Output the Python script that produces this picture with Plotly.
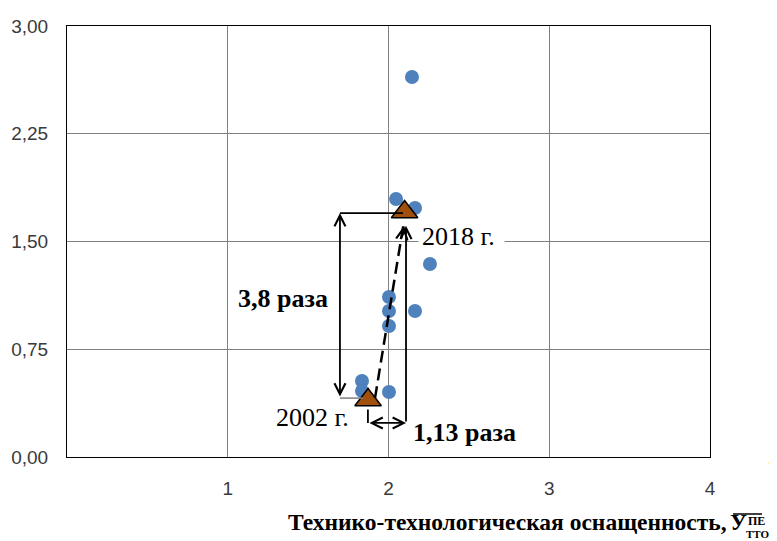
import plotly.graph_objects as go

# Data
pts_x = [2.146, 2.047, 2.165, 2.258, 2.003, 2.003, 2.165, 2.003, 1.835, 1.835, 2.003]
pts_y = [2.645, 1.796, 1.733, 1.343, 1.114, 1.016, 1.016, 0.912, 0.529, 0.459, 0.452]
tri_x = [1.873, 2.100]
tri_y = [0.397, 1.705]
tri_labels = ["2002 г.", "2018 г."]
x_ticks = [1, 2, 3, 4]
y_ticks = [0, 0.75, 1.5, 2.25, 3.0]
ratio_y_label = "3,8 раза"
ratio_x_label = "1,13 раза"

SERIF = "Liberation Serif"
SANS = "Liberation Sans"

fig = go.Figure()
fig.add_trace(go.Scatter(x=pts_x, y=pts_y, mode="markers",
                         marker=dict(color="#4F81BD", size=14), showlegend=False))

# dashed trend line between the two triangles
fig.add_shape(type="line", x0=1.916, y0=0.41, x1=2.095, y1=1.63, xref="x", yref="y",
              line=dict(color="black", width=2.5, dash="12px,6px"))

# bracket lines
fig.add_shape(type="line", x0=1.698, y0=1.698, x1=2.09, y1=1.698, line=dict(color="black", width=1.8))
fig.add_shape(type="line", x0=1.698, y0=0.41, x1=1.84, y1=0.41, line=dict(color="#808080", width=1.5))
fig.add_shape(type="line", x0=1.872, y0=0.33, x1=1.872, y1=0.237, line=dict(color="black", width=1.8))

fig.add_trace(go.Scatter(x=tri_x, y=tri_y, mode="markers",
                         marker=dict(symbol="triangle-up", color="#A0500A", size=23,
                                     line=dict(color="black", width=1.5)),
                         showlegend=False))

ann = []
# left double arrow (3,8 раза)
ann.append(dict(x=1.698, y=1.698, ax=1.698, ay=0.41, xref="x", yref="y", axref="x", ayref="y",
                showarrow=True, arrowhead=5, startarrowhead=5, arrowside="end+start",
                arrowwidth=1.8, arrowsize=1.2, startarrowsize=1.2, arrowcolor="black", text=""))
# right vertical arrow
ann.append(dict(x=2.109, y=1.61, ax=2.109, ay=0.237, xref="x", yref="y", axref="x", ayref="y",
                showarrow=True, arrowhead=5, arrowwidth=1.8, arrowsize=1.2, arrowcolor="black", text=""))
# bottom double arrow (1,13 раза)
ann.append(dict(x=2.109, y=0.237, ax=1.872, ay=0.237, xref="x", yref="y", axref="x", ayref="y",
                showarrow=True, arrowhead=5, startarrowhead=5, arrowside="end+start",
                arrowwidth=1.8, arrowsize=1.2, startarrowsize=1.2, arrowcolor="black", text=""))
# dashed line arrowhead
ann.append(dict(x=2.097, y=1.61, ax=2.088, ay=1.55, xref="x", yref="y", axref="x", ayref="y",
                showarrow=True, arrowhead=5, arrowwidth=2.5, arrowsize=0.9, arrowcolor="black", text=""))

ann.append(dict(x=1.344, y=1.10, xref="x", yref="y", text="<b>" + ratio_y_label + "</b>", showarrow=False,
                font=dict(family=SERIF, size=26, color="black")))
ann.append(dict(x=2.184, y=1.538, xref="x", yref="y", text=tri_labels[1] + " ", showarrow=False, xanchor="left",
                bgcolor="white", borderpad=3, font=dict(family=SERIF, size=26, color="black")))
ann.append(dict(x=1.765, y=0.278, xref="x", yref="y", text=tri_labels[0], showarrow=False, xanchor="right",
                font=dict(family=SERIF, size=26, color="black")))
ann.append(dict(x=2.14, y=0.174, xref="x", yref="y", text="<b>" + ratio_x_label + "</b>", showarrow=False,
                xanchor="left", font=dict(family=SERIF, size=26, color="black")))

# x axis title (paper coords derived from window pixels; plot area spans 67..710 x 26..457)
def px_x(p):
    return (p - 67) / 643
def px_y(p):
    return (457 - p) / 431

ann.append(dict(x=px_x(729), y=px_y(522), xref="paper", yref="paper", xanchor="right", yanchor="middle",
                text="<b>Технико-технологическая оснащенность,</b>", showarrow=False,
                font=dict(family=SERIF, size=23.5, color="black")))
ann.append(dict(x=px_x(729), y=px_y(522), xref="paper", yref="paper", xanchor="left", yanchor="middle",
                text="<b>У</b>", showarrow=False, borderpad=0, font=dict(family=SERIF, size=23, color="black")))
ann.append(dict(x=px_x(747), y=px_y(521), xref="paper", yref="paper", xanchor="left", yanchor="middle",
                text="<b>ПЕ</b>", showarrow=False, borderpad=0, font=dict(family=SERIF, size=12, color="black")))
ann.append(dict(x=px_x(745), y=px_y(534), xref="paper", yref="paper", xanchor="left", yanchor="middle",
                text="<b>ТТО</b>", showarrow=False, borderpad=0, font=dict(family=SERIF, size=11, color="black")))
ann.append(dict(x=px_x(770), y=px_y(458), xref="paper", yref="paper", xanchor="center", yanchor="middle",
                text="<b>.</b>", showarrow=False, font=dict(family=SANS, size=16, color="black")))

fig.add_shape(type="line", xref="paper", yref="paper", x0=px_x(733), x1=px_x(762), y0=px_y(514), y1=px_y(514),
              line=dict(color="black", width=1.5))

fig.update_layout(
    width=769, height=533,
    margin=dict(l=59, r=67, t=18, b=84, autoexpand=False),
    plot_bgcolor="white", paper_bgcolor="white",
    separators=", ",
    annotations=ann,
    xaxis=dict(range=[0, 4], tickvals=x_ticks, showgrid=True, gridcolor="#808080", gridwidth=1,
               zeroline=False, showline=True, linecolor="black", linewidth=1, mirror=True,
               ticks="", ticklabelstandoff=14, automargin=False,
               tickfont=dict(family=SANS, size=19, color="#3a3a3a")),
    yaxis=dict(range=[0, 3], tickvals=y_ticks, tickformat=".2f", showgrid=True, gridcolor="#808080",
               gridwidth=1, zeroline=False, showline=True, linecolor="black", linewidth=1, mirror=True,
               ticks="", ticklabelstandoff=14, automargin=False,
               tickfont=dict(family=SANS, size=19, color="#3a3a3a")),
)

fig.write_html("out.html")
